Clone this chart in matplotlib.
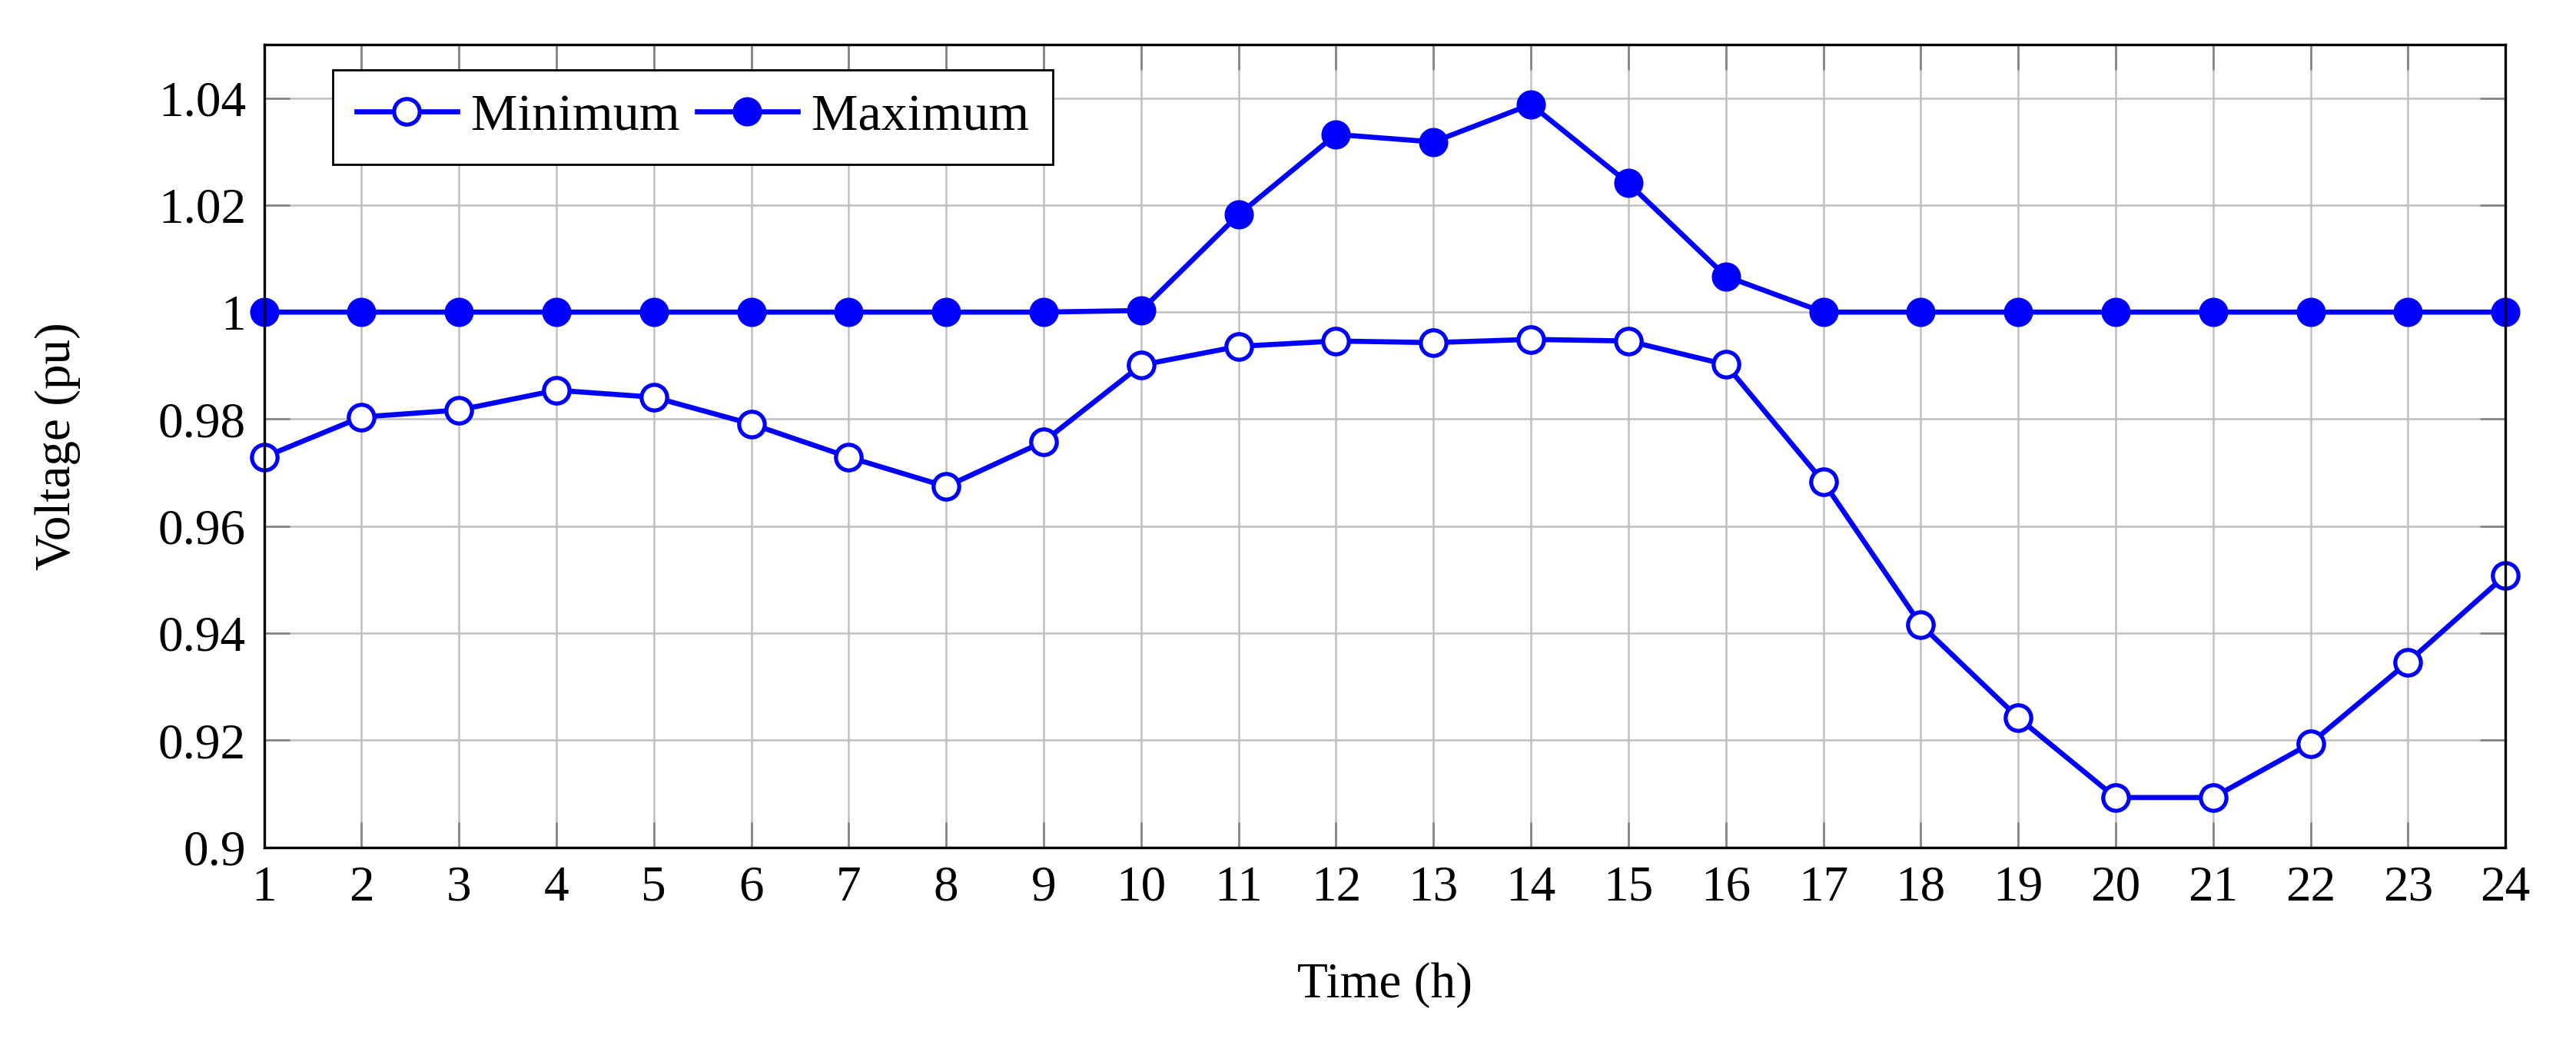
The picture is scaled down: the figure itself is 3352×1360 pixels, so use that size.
import matplotlib
matplotlib.use("Agg")
import matplotlib.pyplot as plt
from matplotlib.ticker import FixedLocator, FixedFormatter

# ---- data ----
hours = list(range(1, 25))
v_min = [0.9729, 0.9804, 0.9817, 0.9854, 0.9841, 0.9791, 0.9729, 0.9674,
         0.9758, 0.9901, 0.9936, 0.9946, 0.9943, 0.9949, 0.9946, 0.9902,
         0.9683, 0.9416, 0.9242, 0.9093, 0.9093, 0.9194, 0.9346, 0.9508]
v_max = [1.0, 1.0, 1.0, 1.0, 1.0, 1.0, 1.0, 1.0,
         1.0, 1.0003, 1.0182, 1.0332, 1.0318, 1.0388, 1.0241, 1.0067,
         1.0, 1.0, 1.0, 1.0, 1.0, 1.0, 1.0, 1.0]
y_ticks = [0.90, 0.92, 0.94, 0.96, 0.98, 1.00, 1.02, 1.04]
y_tick_labels = ["0.9", "0.92", "0.94", "0.96", "0.98", "1", "1.02", "1.04"]
x_tick_labels = [str(h) for h in hours]
series_names = ["Minimum", "Maximum"]

plt.rcParams['font.family'] = ['Liberation Serif', 'DejaVu Serif']
plt.rcParams['mathtext.fontset'] = 'stix'
FS = 23.5
LFS = 24.5

fig = plt.figure(figsize=(16.76, 6.8), dpi=200)
ax = fig.add_axes([0.1025, 0.1892, 0.8701, 0.7682])

blue = (0, 0, 1)
ax.plot(hours, v_min, color=blue, lw=2.4, marker='o', ms=12, mfc='white',
        mec=blue, mew=1.9, label=series_names[0], zorder=3, clip_on=False)
ax.plot(hours, v_max, color=blue, lw=2.4, marker='o', ms=12.5, mfc=blue,
        mec=blue, mew=1.2, label=series_names[1], zorder=3, clip_on=False)

ax.set_xlim(1, 24)
ax.set_ylim(0.9, 1.05)
ax.xaxis.set_major_locator(FixedLocator(hours))
ax.xaxis.set_major_formatter(FixedFormatter(x_tick_labels))
ax.yaxis.set_major_locator(FixedLocator(y_ticks))
ax.yaxis.set_major_formatter(FixedFormatter(y_tick_labels))

ax.grid(True, color='#c0c0c0', lw=0.9, zorder=0)
ax.set_axisbelow(True)
ax.tick_params(direction='in', length=12, width=0.9, color='#808080',
               top=True, right=True, labelsize=FS, pad=8.5)
for s in ax.spines.values():
    s.set_linewidth(1.2)
    s.set_color('black')
    s.set_zorder(4)

ax.set_xlabel("Time (h)", fontsize=FS)
ax.set_ylabel("Voltage (pu)", fontsize=FS)
ax.xaxis.label.set_va('center')
ax.yaxis.label.set_va('center')
ax.xaxis.set_label_coords(0.5, -0.1716)
ax.yaxis.set_label_coords(-0.092, 0.5)

leg = ax.legend(loc='upper left', bbox_to_anchor=(0.0307, 0.9683), ncol=2,
                fontsize=LFS, frameon=True, fancybox=False, framealpha=1,
                edgecolor='black', borderaxespad=0, borderpad=0.45,
                handlelength=1.93, handletextpad=0.265, columnspacing=0.32)
leg.get_frame().set_linewidth(1.0)
leg.set_zorder(5)

fig.savefig("out.png", dpi=200, facecolor='white')
